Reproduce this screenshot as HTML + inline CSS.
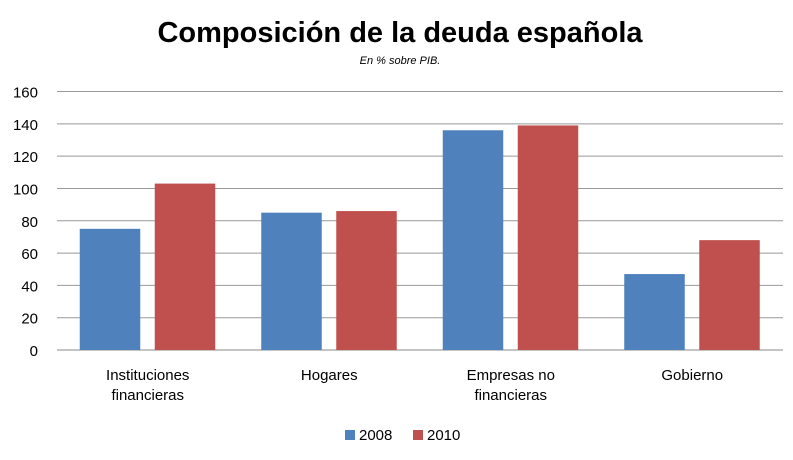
<!DOCTYPE html>
<html><head><meta charset="utf-8"><style>
html,body{margin:0;padding:0;background:#fff;}
svg{display:block;font-family:"Liberation Sans",sans-serif;}
</style></head><body>
<svg id="chart" width="793" height="460" viewBox="0 0 793 460">
<text x="400" y="42" text-anchor="middle" font-size="29" font-weight="bold" fill="#000">Composición de la deuda española</text>
<text x="400" y="64" text-anchor="middle" font-size="11" font-style="italic" fill="#000">En % sobre PIB.</text>
<g id="grid"></g><g id="bars"></g><g id="labels"></g>
<g>
<rect x="345" y="430" width="10" height="10" fill="#4F81BD"/>
<text x="359" y="440" font-size="15" fill="#000">2008</text>
<rect x="413" y="430" width="10" height="10" fill="#C0504D"/>
<text x="427" y="440" font-size="15" fill="#000">2010</text>
</g>
</svg>
<script>
const categories=[["Instituciones","financieras"],["Hogares"],["Empresas no","financieras"],["Gobierno"]];
const values2008=[75,85,136,47];
const values2010=[103,86,139,68];
const yTicks=[0,20,40,60,80,100,120,140,160];
const ns="http://www.w3.org/2000/svg";
const L=57,R=783,T=91.5,B=350,maxV=160;
const y=v=>B-(v/maxV)*(B-T);
const bw=(R-L)/categories.length;
const x=i=>L+i*bw;
function mk(t,a,p){const e=document.createElementNS(ns,t);for(const k in a)e.setAttribute(k,a[k]);p.appendChild(e);return e;}
const g=document.getElementById('grid'),bars=document.getElementById('bars'),lab=document.getElementById('labels');
yTicks.forEach(v=>{
 const l=mk('line',{x1:L,x2:R,y1:y(v),y2:y(v),stroke:v===0?'#888':'#999','stroke-width':1},g);
 
 
 const t=mk('text',{x:38,y:y(v)+6,'text-anchor':'end','font-size':15,fill:'#000'},g);
 t.textContent=v;
 
 
});
categories.forEach((c,i)=>{
 const cx=x(i)+bw/2;
 [[values2008,'#4F81BD','2008',-1],[values2010,'#C0504D','2010',1]].forEach(s=>{
  const v=s[0][i];
  const bx=s[3]<0?cx-68:cx+7;
  const r=mk('rect',{x:bx,y:y(v),width:60.5,height:B-y(v),fill:s[1]},bars);
  
  
 });
 c.forEach((ln,j)=>{
  const t=mk('text',{x:cx,y:380+j*20,'text-anchor':'middle','font-size':15,fill:'#000'},lab);
  t.textContent=ln;
  
  
 });
});
</script>
</body></html>
